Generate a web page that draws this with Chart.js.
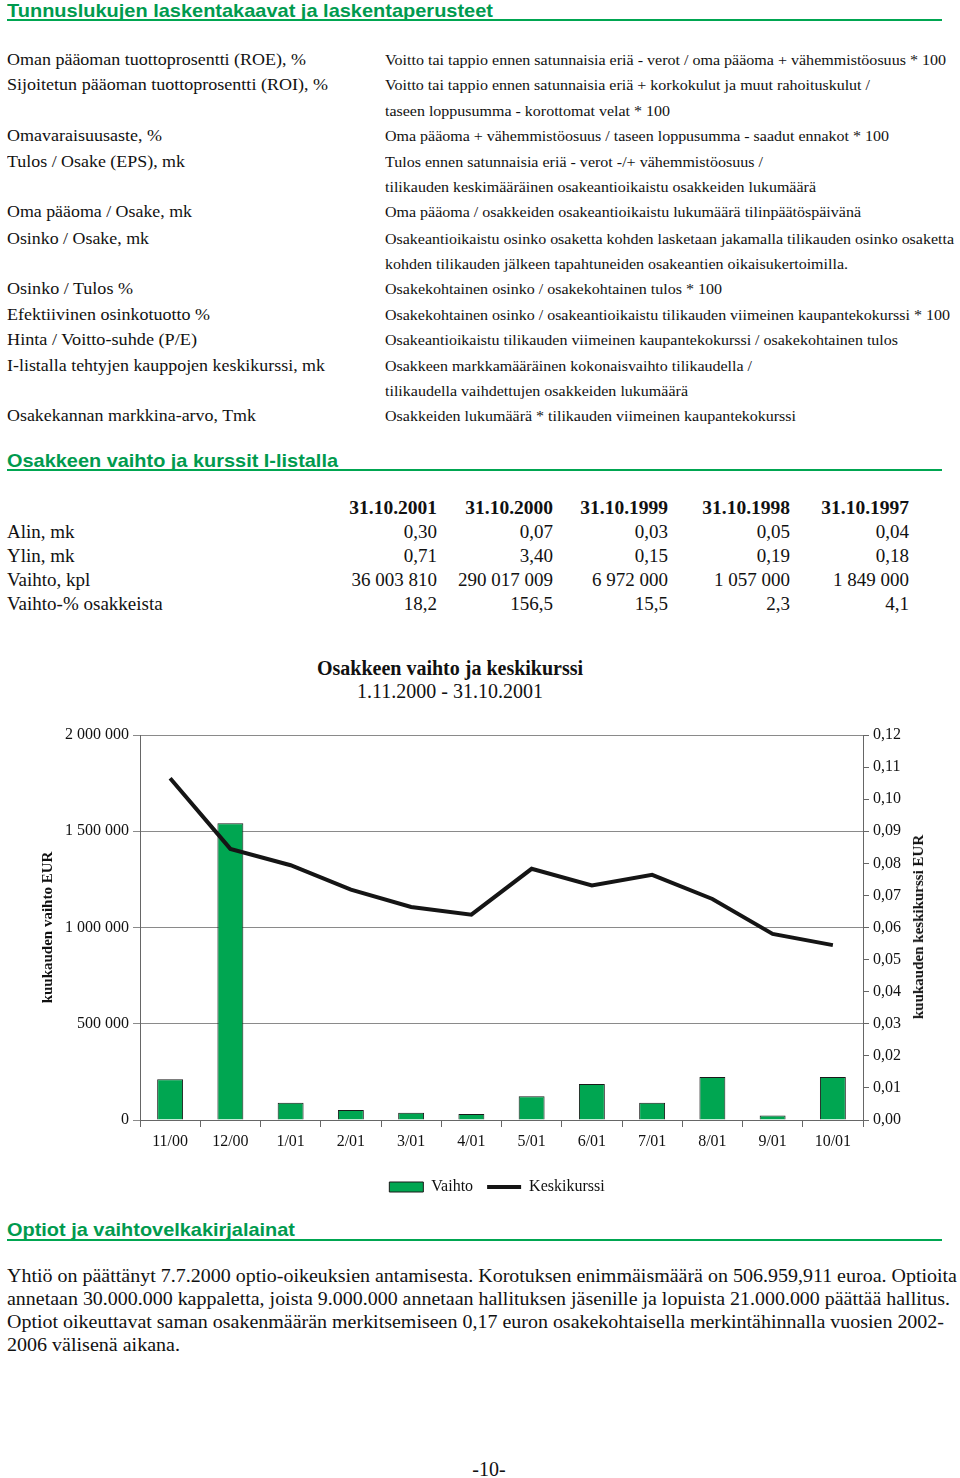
<!DOCTYPE html>
<html lang="fi">
<head>
<meta charset="utf-8">
<script src="https://cdn.jsdelivr.net/npm/chart.js@4"></script>
<style>
body { margin:0; background:#fff; }
#sivu { position:relative; width:960px; height:1478px; overflow:hidden; font-family:"Liberation Serif", "Times New Roman", serif; color:#111; }
.t { position:absolute; white-space:nowrap; line-height:20px; transform-origin:left center; }
.v { left:7px; font-size:17px; }
.o { left:385px; font-size:15px; }
.h { left:7px; font-family:"Liberation Sans", Arial, sans-serif; font-weight:bold; font-size:19px; color:#009a4e; }
.viiva { position:absolute; left:7px; width:935px; height:2px; background:#00a651; }
.tb { font-size:19px; }
.p { left:7px; font-size:18.5px; }
#kaavio { position:absolute; left:0; top:715px; width:960px; height:490px; }
</style>
</head>
<body>
<div id="sivu">

<div class="t h" style="top:1px" data-w="486">Tunnuslukujen laskentakaavat ja laskentaperusteet</div>
<div class="viiva" style="top:19px"></div>

<div class="t v" style="top:50px" data-w="299">Oman pääoman tuottoprosentti (ROE), %</div>
<div class="t v" style="top:75px" data-w="321">Sijoitetun pääoman tuottoprosentti (ROI), %</div>
<div class="t v" style="top:126px" data-w="155">Omavaraisuusaste, %</div>
<div class="t v" style="top:152px" data-w="178">Tulos / Osake (EPS), mk</div>
<div class="t v" style="top:202px" data-w="185">Oma pääoma / Osake, mk</div>
<div class="t v" style="top:229px" data-w="142">Osinko / Osake, mk</div>
<div class="t v" style="top:279px" data-w="126">Osinko / Tulos %</div>
<div class="t v" style="top:305px" data-w="203">Efektiivinen osinkotuotto %</div>
<div class="t v" style="top:330px" data-w="190">Hinta / Voitto-suhde (P/E)</div>
<div class="t v" style="top:356px" data-w="318">I-listalla tehtyjen kauppojen keskikurssi, mk</div>
<div class="t v" style="top:406px" data-w="249">Osakekannan markkina-arvo, Tmk</div>

<div class="t o" style="top:50px" data-w="561">Voitto tai tappio ennen satunnaisia eriä - verot / oma pääoma + vähemmistöosuus * 100</div>
<div class="t o" style="top:75px" data-w="485">Voitto tai tappio ennen satunnaisia eriä + korkokulut ja muut rahoituskulut /</div>
<div class="t o" style="top:101px" data-w="285">taseen loppusumma - korottomat velat * 100</div>
<div class="t o" style="top:126px" data-w="504">Oma pääoma + vähemmistöosuus / taseen loppusumma - saadut ennakot * 100</div>
<div class="t o" style="top:152px" data-w="378">Tulos ennen satunnaisia eriä - verot -/+ vähemmistöosuus /</div>
<div class="t o" style="top:177px" data-w="431">tilikauden keskimääräinen osakeantioikaistu osakkeiden lukumäärä</div>
<div class="t o" style="top:202px" data-w="476">Oma pääoma / osakkeiden osakeantioikaistu lukumäärä tilinpäätöspäivänä</div>
<div class="t o" style="top:229px" data-w="569">Osakeantioikaistu osinko osaketta kohden lasketaan jakamalla tilikauden osinko osaketta</div>
<div class="t o" style="top:254px" data-w="463">kohden tilikauden jälkeen tapahtuneiden osakeantien oikaisukertoimilla.</div>
<div class="t o" style="top:279px" data-w="337">Osakekohtainen osinko / osakekohtainen tulos * 100</div>
<div class="t o" style="top:305px" data-w="565">Osakekohtainen osinko / osakeantioikaistu tilikauden viimeinen kaupantekokurssi * 100</div>
<div class="t o" style="top:330px" data-w="513">Osakeantioikaistu tilikauden viimeinen kaupantekokurssi / osakekohtainen tulos</div>
<div class="t o" style="top:356px" data-w="367">Osakkeen markkamääräinen kokonaisvaihto tilikaudella /</div>
<div class="t o" style="top:381px" data-w="303">tilikaudella vaihdettujen osakkeiden lukumäärä</div>
<div class="t o" style="top:406px" data-w="411">Osakkeiden lukumäärä * tilikauden viimeinen kaupantekokurssi</div>

<div class="t h" style="top:451px" data-w="331">Osakkeen vaihto ja kurssit I-listalla</div>
<div class="viiva" style="top:469px"></div>

<div id="taulukko"></div>

<div class="t" style="top:656px;left:450px;transform:translateX(-50%);font-size:20px;font-weight:bold;line-height:24px">Osakkeen vaihto ja keskikurssi</div>
<div class="t" style="top:679px;left:450px;transform:translateX(-50%);font-size:20px;line-height:24px">1.11.2000 - 31.10.2001</div>

<canvas id="kaavio" width="960" height="490"></canvas>
<div class="t" style="top:927px;left:918px;transform:translate(-50%,-50%) rotate(-90deg);transform-origin:center;font-size:15px;font-weight:bold">kuukauden keskikurssi EUR</div>

<div class="t h" style="top:1220px" data-w="288">Optiot ja vaihtovelkakirjalainat</div>
<div class="viiva" style="top:1239px"></div>

<div class="t p" style="top:1266px" data-w="950">Yhtiö on päättänyt 7.7.2000 optio-oikeuksien antamisesta. Korotuksen enimmäismäärä on 506.959,911 euroa. Optioita</div>
<div class="t p" style="top:1289px" data-w="943">annetaan 30.000.000 kappaletta, joista 9.000.000 annetaan hallituksen jäsenille ja lopuista 21.000.000 päättää hallitus.</div>
<div class="t p" style="top:1312px" data-w="937">Optiot oikeuttavat saman osakenmäärän merkitsemiseen 0,17 euron osakekohtaisella merkintähinnalla vuosien 2002-</div>
<div class="t p" style="top:1335px" data-w="173">2006 välisenä aikana.</div>

<div class="t" style="top:1459px;left:489px;transform:translateX(-50%);font-size:20px">-10-</div>
</div>

<script>
// Taulukko: osakkeen vaihto ja kurssit
const paivat = ["31.10.2001", "31.10.2000", "31.10.1999", "31.10.1998", "31.10.1997"];
const rivit = ["Alin, mk", "Ylin, mk", "Vaihto, kpl", "Vaihto-% osakkeista"];
const alin = ["0,30", "0,07", "0,03", "0,05", "0,04"];
const ylin = ["0,71", "3,40", "0,15", "0,19", "0,18"];
const vaihtoKpl = ["36 003 810", "290 017 009", "6 972 000", "1 057 000", "1 849 000"];
const vaihtoPros = ["18,2", "156,5", "15,5", "2,3", "4,1"];

// Kaavio
const kuukaudet = ["11/00", "12/00", "1/01", "2/01", "3/01", "4/01", "5/01", "6/01", "7/01", "8/01", "9/01", "10/01"];
const vaihto = [212000, 1542000, 90000, 52000, 38000, 31000, 124000, 187000, 90000, 223000, 24000, 224000];
const keskikurssi = [0.1065, 0.0845, 0.0794, 0.0718, 0.0664, 0.0640, 0.0783, 0.0731, 0.0764, 0.0689, 0.0580, 0.0545];
const vasenTikit = [0, 500000, 1000000, 1500000, 2000000];
const oikeaTikit = [0, 0.01, 0.02, 0.03, 0.04, 0.05, 0.06, 0.07, 0.08, 0.09, 0.10, 0.11, 0.12];

// taulukon rakennus
const sarakeOikea = [437, 553, 668, 790, 909];
const riviY = [532, 556, 580, 604];
const sivu = document.getElementById("taulukko");

function teksti(txt, css) {
    const d = document.createElement("div");
    d.className = "t tb";
    d.textContent = txt;
    d.style.cssText = css;
    sivu.appendChild(d);
    return d;
}

paivat.forEach((p, i) => {
    teksti(p, "top:498px;right:" + (960 - sarakeOikea[i]) + "px;font-weight:bold;font-size:19.5px");
});
const arvot = [alin, ylin, vaihtoKpl, vaihtoPros];
rivit.forEach((r, j) => {
    teksti(r, "top:" + (riviY[j] - 10) + "px;left:7px");
    arvot[j].forEach((a, i) => {
        teksti(a, "top:" + (riviY[j] - 10) + "px;right:" + (960 - sarakeOikea[i]) + "px");
    });
});

// tekstien leveys kuvan mukaan
document.querySelectorAll("[data-w]").forEach(el => {
    const w = el.getBoundingClientRect().width;
    el.style.transform = "scaleX(" + (el.dataset.w / w) + ")";
});

const fontti = { family: "'Liberation Serif', 'Times New Roman', serif", size: 16 };

function muotoileLuku(v) {
    return String(v).replace(/\B(?=(\d{3})+(?!\d))/g, " ");
}

new Chart(document.getElementById("kaavio"), {
    type: "bar",
    data: {
        labels: kuukaudet,
        datasets: [{
            label: "Vaihto",
            data: vaihto,
            yAxisID: "y",
            backgroundColor: "#00a651",
            borderColor: "#1a1a1a",
            borderWidth: 1,
            barPercentage: 0.43,
            categoryPercentage: 1,
            order: 1
        }, {
            type: "line",
            label: "Keskikurssi",
            data: keskikurssi,
            yAxisID: "y1",
            borderColor: "#151515",
            backgroundColor: "#151515",
            borderWidth: 4,
            pointRadius: 0,
            tension: 0,
            order: 0
        }]
    },
    options: {
        responsive: false,
        animation: false,
        layout: { padding: { top: 20, left: 34, right: 0, bottom: 0 } },
        plugins: {
            legend: {
                position: "bottom",
                labels: {
                    font: fontti,
                    color: "#111",
                    usePointStyle: true,
                    pointStyleWidth: 34,
                    boxHeight: 10,
                    padding: 14,
                    sort: (a, b) => a.datasetIndex - b.datasetIndex,
                    generateLabels: chart => chart.data.datasets.map((ds, i) => ({
                        text: ds.label,
                        datasetIndex: i,
                        fillStyle: ds.backgroundColor,
                        strokeStyle: ds.type === "line" ? ds.borderColor : "#1a1a1a",
                        lineWidth: ds.type === "line" ? 4 : 1,
                        pointStyle: ds.type === "line" ? "line" : "rect",
                        fontColor: "#111"
                    }))
                }
            },
            tooltip: { enabled: false }
        },
        scales: {
            x: {
                offset: true,
                grid: { drawOnChartArea: false, offset: true, tickLength: 7, color: "#666" },
                border: { color: "#666" },
                ticks: { font: fontti, color: "#111", padding: 5, maxRotation: 0 },
                afterFit: s => { s.height = 45; }
            },
            y: {
                position: "left",
                min: 0,
                max: 2000000,
                afterBuildTicks: s => { s.ticks = vasenTikit.map(v => ({ value: v })); },
                grid: { color: "#8a8a8a", tickLength: 7 },
                border: { color: "#666" },
                ticks: { font: fontti, color: "#111", padding: 4, callback: v => muotoileLuku(v) },
                title: { display: true, text: "kuukauden vaihto EUR", font: { family: fontti.family, size: 15, weight: "bold" }, color: "#111", padding: { top: 5, bottom: 0 } },
                afterFit: s => { s.width = 106; }
            },
            y1: {
                position: "right",
                min: 0,
                max: 0.12,
                afterBuildTicks: s => { s.ticks = oikeaTikit.map(v => ({ value: v })); },
                grid: { drawOnChartArea: false, tickLength: 6, color: "#666" },
                border: { color: "#666" },
                ticks: { font: fontti, color: "#111", padding: 4, callback: v => v.toFixed(2).replace(".", ",") },
                afterFit: s => { s.width = 97; }
            }
        }
    }
});
</script>
</body>
</html>
